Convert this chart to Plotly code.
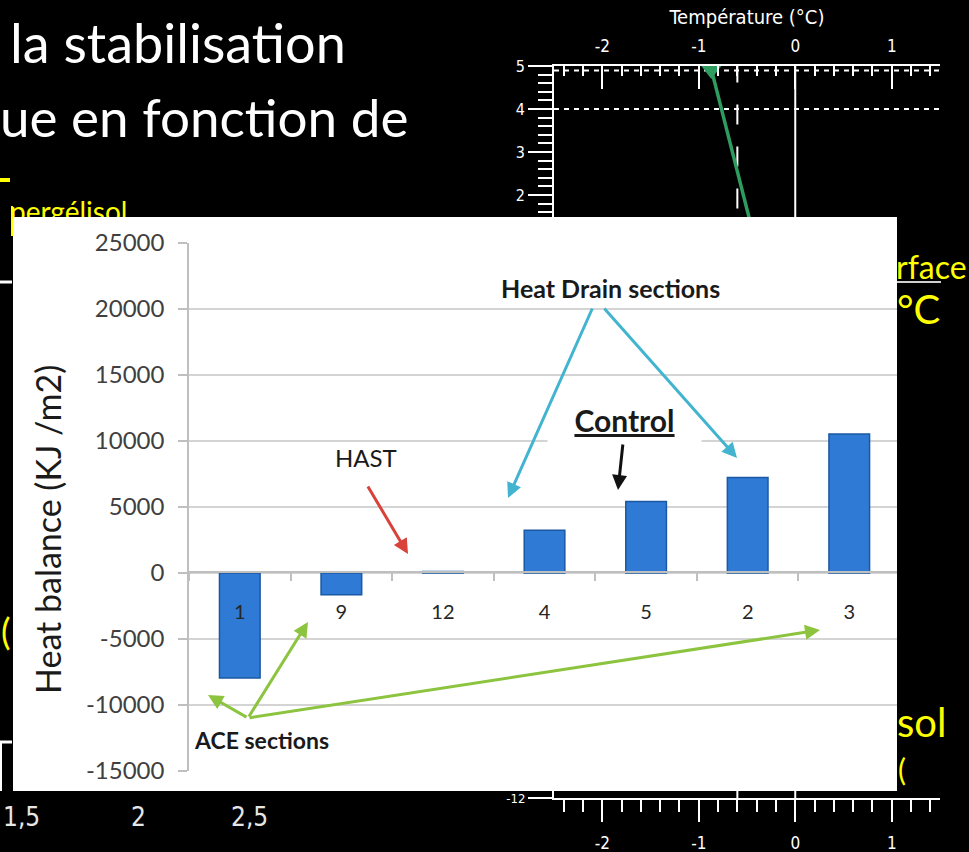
import plotly.graph_objects as go

W, H = 969, 852


def px(x):
    return x / W


def py(y):
    return 1 - y / H


# ---------------- main bar chart data ----------------
sections = ["1", "9", "12", "4", "5", "2", "3"]
heat_balance = [-7950, -1650, 100, 3230, 5400, 7220, 10520]
y_ticks = [-15000, -10000, -5000, 0, 5000, 10000, 15000, 20000, 25000]

# ---------------- background temperature profile ----------------
temp_ticks = [-2, -1, 0, 1]
depth_ticks = [2, 3, 4, 5]
green_temp = [-0.87, -0.47]
green_depth = [4.93, 1.40]
dotted_depths = [4.9, 4.0]
dashed_temp = [-0.6, -0.6]
zero_temp = [0, 0]
bottom_depth_label = ["-12"]
bg_x_labels = ["1,5", "2", "2,5"]

NARROW = "Liberation Sans Narrow, Arial Narrow, DejaVu Sans Condensed, Liberation Sans"
LATO = "Lato, Carlito, Calibri, sans-serif"

fig = go.Figure()

# bar chart
fig.add_trace(go.Bar(
    x=sections, y=heat_balance, width=0.4,
    marker=dict(color="#2f7ad4", line=dict(color="#1b58a3", width=1.5)),
    xaxis="x", yaxis="y", hoverinfo="x+y",
))

# temperature chart (top right, behind the inset)
for d in dotted_depths:
    fig.add_trace(go.Scatter(x=[-2.5, 1.5], y=[d, d], mode="lines",
                             line=dict(color="white", width=2, dash="5px,5px"),
                             xaxis="x2", yaxis="y2", hoverinfo="skip"))
fig.add_trace(go.Scatter(x=zero_temp, y=[-12, 5], mode="lines",
                         line=dict(color="white", width=2),
                         xaxis="x2", yaxis="y2", hoverinfo="skip"))
fig.add_trace(go.Scatter(x=dashed_temp, y=[-12, 5], mode="lines",
                         line=dict(color="white", width=2, dash="20px,22px"),
                         xaxis="x2", yaxis="y2", hoverinfo="skip"))
fig.add_trace(go.Scatter(x=green_temp, y=green_depth, mode="lines",
                         line=dict(color="#2e9c5f", width=3.5),
                         xaxis="x2", yaxis="y2"))
fig.add_trace(go.Scatter(x=green_temp[:1], y=green_depth[:1], mode="markers",
                         marker=dict(symbol="triangle-down", size=20, color="#2e9c5f"),
                         cliponaxis=False, xaxis="x2", yaxis="y2"))
# bottom strip of temperature chart
fig.add_trace(go.Scatter(x=zero_temp, y=[0, 1], mode="lines",
                         line=dict(color="white", width=2),
                         xaxis="x3", yaxis="y3", hoverinfo="skip"))
fig.add_trace(go.Scatter(x=dashed_temp, y=[0, 1], mode="lines",
                         line=dict(color="white", width=2),
                         xaxis="x3", yaxis="y3", hoverinfo="skip"))

# clipped slide text (partly hidden by the inset)
fig.add_trace(go.Scatter(x=[10], y=[215], mode="text", text=["pergélisol"],
                         textposition="middle right",
                         textfont=dict(size=28, color="#ffff00", family=LATO),
                         cliponaxis=True, xaxis="x4", yaxis="y4", hoverinfo="skip"))

fig.update_layout(
    width=W, height=H, margin=dict(l=0, r=0, t=0, b=0, autoexpand=False),
    paper_bgcolor="black", plot_bgcolor="rgba(0,0,0,0)",
    showlegend=False,
    xaxis=dict(
        domain=[px(189), px(897)], type="category",
        categoryorder="array", categoryarray=sections,
        range=[-0.5, 6.47], anchor="free", position=py(572),
        showline=True, linecolor="#bfbfbf", linewidth=1.5,
        ticks="outside", tickson="boundaries", ticklen=8, tickwidth=1.5,
        tickcolor="#bfbfbf", tickfont=dict(size=20, color="#262626", family=LATO),
        ticklabelstandoff=22, showgrid=False, zeroline=False, automargin=False,
    ),
    yaxis=dict(
        domain=[py(771), py(242.7)], range=[-15000, 25000], anchor="x",
        tickvals=y_ticks, ticktext=[str(v) for v in y_ticks],
        showgrid=True, gridcolor="#d4d4d4", gridwidth=1.5,
        showline=True, linecolor="#bfbfbf", linewidth=1.5,
        ticks="outside", ticklen=9, tickwidth=1.5, tickcolor="#bfbfbf",
        tickfont=dict(size=24, color="#404040", family=LATO), zeroline=False,
        ticklabelstandoff=9, automargin=False,
    ),
    xaxis2=dict(
        domain=[px(554), px(940)], range=[-2.5, 1.5], anchor="y2", side="top",
        showline=True, linecolor="white", linewidth=2,
        ticks="inside", ticklen=23, tickwidth=2, tickcolor="white",
        tickvals=temp_ticks, ticktext=[str(t) for t in temp_ticks],
        minor=dict(dtick=0.2, tick0=0, ticks="inside", ticklen=10, tickwidth=2, tickcolor="white"),
        tickfont=dict(size=17, color="white", family=NARROW),
        title=dict(text="Température (°C)", font=dict(size=20, color="white", family=NARROW), standoff=6),
        ticklabelstandoff=5,
        showgrid=False, zeroline=False, automargin=False,
    ),
    yaxis2=dict(
        domain=[py(217), py(66)], range=[1.488, 5.002], anchor="x2",
        showline=True, linecolor="white", linewidth=2,
        ticks="outside", ticklen=24, tickwidth=2, tickcolor="white",
        tickvals=depth_ticks,
        minor=dict(dtick=0.2, tick0=0, ticks="outside", ticklen=14, tickwidth=2, tickcolor="white"),
        tickfont=dict(size=16, color="white", family=NARROW),
        showgrid=False, zeroline=False, automargin=False,
    ),
    xaxis3=dict(
        domain=[px(554), px(940)], range=[-2.5, 1.5], anchor="y3", side="bottom",
        showline=True, linecolor="white", linewidth=2,
        ticks="outside", ticklen=22, tickwidth=2, tickcolor="white",
        tickvals=temp_ticks, ticktext=[str(t) for t in temp_ticks],
        minor=dict(dtick=0.2, tick0=0, ticks="outside", ticklen=12, tickwidth=2, tickcolor="white"),
        tickfont=dict(size=17, color="white", family=NARROW),
        ticklabelstandoff=7,
        showgrid=False, zeroline=False, automargin=False,
    ),
    yaxis3=dict(
        domain=[py(798), py(791)], range=[0, 1], anchor="x3",
        showline=True, linecolor="white", linewidth=2,
        ticks="outside", ticklen=24, tickwidth=2, tickcolor="white",
        tickvals=[0], ticktext=bottom_depth_label,
        tickfont=dict(size=13, color="white", family=NARROW),
        showgrid=False, zeroline=False, automargin=False,
    ),
    xaxis4=dict(domain=[0, 0.5], range=[0, 0.5 * W], anchor="y4", visible=False, automargin=False),
    yaxis4=dict(domain=[py(217), 1], range=[217, 0], anchor="x4", visible=False, automargin=False),
)

shapes = [
    dict(type="rect", xref="paper", yref="paper", x0=px(13), x1=px(897),
         y0=py(791), y1=py(217), fillcolor="white", line=dict(width=0), layer="below"),
    dict(type="line", xref="paper", yref="paper", x0=0, x1=px(10), y0=py(180), y1=py(180),
         line=dict(color="#ffff00", width=4)),
    dict(type="line", xref="paper", yref="paper", x0=px(12), x1=px(12), y0=py(206), y1=py(236),
         line=dict(color="#ffff00", width=2)),
    dict(type="line", xref="paper", yref="paper", x0=px(897), x1=px(941), y0=py(282), y1=py(282),
         line=dict(color="#d0d0d0", width=2)),
    dict(type="line", xref="paper", yref="paper", x0=0, x1=px(12), y0=py(282), y1=py(282),
         line=dict(color="white", width=3)),
    dict(type="line", xref="paper", yref="paper", x0=0, x1=px(12), y0=py(742), y1=py(742),
         line=dict(color="white", width=3)),
    dict(type="line", xref="paper", yref="paper", x0=px(1), x1=px(1), y0=py(742), y1=py(791),
         line=dict(color="white", width=2)),
]
fig.update_layout(shapes=shapes)


def arrow(tail, head, color, width=3.0, size=1.0):
    return dict(x=px(head[0]), y=py(head[1]), xref="paper", yref="paper",
                ax=tail[0] - head[0], ay=tail[1] - head[1], axref="pixel", ayref="pixel",
                text="", showarrow=True, arrowhead=2, arrowsize=size, arrowwidth=width,
                arrowcolor=color, standoff=0, startstandoff=0)


def label(text, x, y, size, color="#1a1a1a", xanchor="center", yanchor="middle", family=LATO, **kw):
    d = dict(text=text, x=px(x), y=py(y), xref="paper", yref="paper", showarrow=False,
             xanchor=xanchor, yanchor=yanchor, font=dict(size=size, color=color, family=family))
    d.update(kw)
    return d


GREEN = "#8cc43f"
CYAN = "#42b4d0"
annotations = [
    # slide text
    label("la stabilisation", 8, 8, 54, color="white", xanchor="left", yanchor="top"),
    label("ue en fonction de", -2, 83, 53, color="white", xanchor="left", yanchor="top"),
    label("rface", 894, 245, 32, color="#ffff00", xanchor="left", yanchor="top"),
    label("°C", 895, 283, 40, color="#ffff00", xanchor="left", yanchor="top"),
    label("sol", 895, 696, 40, color="#ffff00", xanchor="left", yanchor="top"),
    label("(", 896, 749, 30, color="#ffff00", xanchor="left", yanchor="top"),
    label("(", -1, 607, 36, color="#ffff00", xanchor="left", yanchor="top"),
    label(bg_x_labels[0], 21, 817, 26, color="#e6e6e6", family=NARROW),
    label(bg_x_labels[1], 138, 817, 26, color="#e6e6e6", family=NARROW),
    label(bg_x_labels[2], 249, 817, 26, color="#e6e6e6", family=NARROW),
    # bar chart texts
    label("Heat balance (KJ /m2)", 47, 530, 34, textangle=-90),
    label("<b><u>Control</u></b>", 624, 420, 30, bgcolor="white", width=145, borderpad=4),
    label("HAST", 366, 457, 24),
    label("<b>Heat Drain sections</b>", 610, 288, 25),
    label("<b>ACE sections</b>", 261, 740, 23),
    # arrows
    arrow((367, 485), (408, 554), "#d9413b"),
    arrow((593, 307), (508, 498), CYAN),
    arrow((603, 307), (737, 458), CYAN),
    arrow((623, 443), (618, 490), "#111111"),
    arrow((248, 718), (208, 695), GREEN),
    arrow((248, 718), (308, 622), GREEN),
    arrow((248, 718), (820, 630), GREEN),
]
fig.update_layout(annotations=annotations)

fig.write_html(
    "out.html",
    config={"displayModeBar": False},
    post_script="document.body.style.margin='0';document.body.style.overflow='hidden';",
)
